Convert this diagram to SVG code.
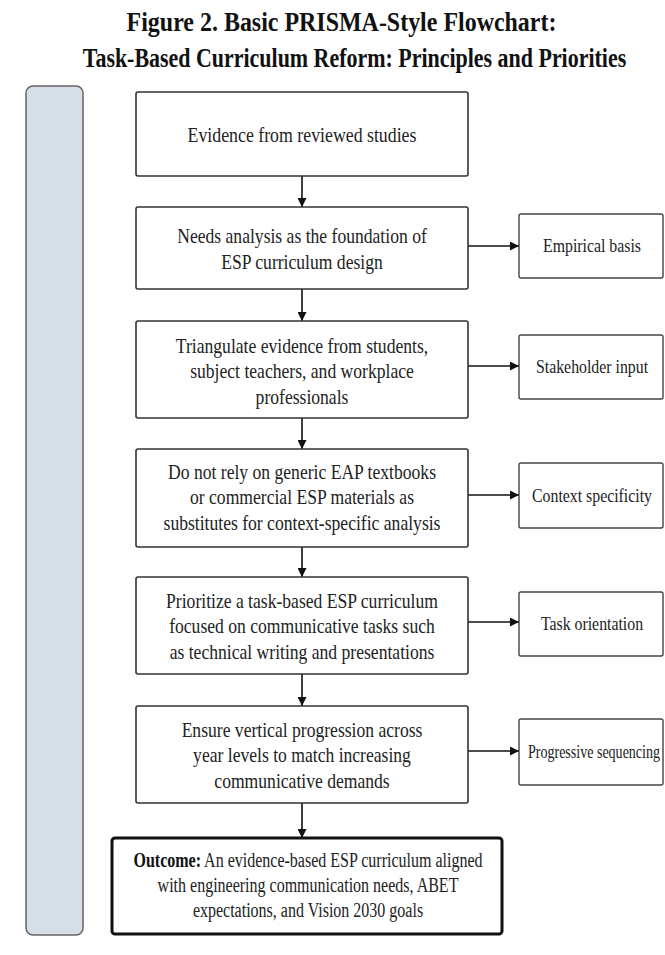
<svg xmlns="http://www.w3.org/2000/svg" width="665" height="955" viewBox="0 0 665 955">
<defs>
<marker id="ah" viewBox="0 0 10 10" refX="10" refY="5" markerWidth="9" markerHeight="9" markerUnits="userSpaceOnUse" orient="auto">
<path d="M0,0 L10,5 L0,10 z" fill="#111"/>
</marker>
<style>
.title{font-family:"Liberation Serif","Times New Roman",serif;font-weight:bold;font-size:27px;fill:#111;text-anchor:middle}
.box{fill:#fff;stroke:#333;stroke-width:1.6}
.side{fill:#fff;stroke:#444;stroke-width:1.4}
.out{fill:#fff;stroke:#111;stroke-width:3}
.t{font-family:"Liberation Serif","Times New Roman",serif;font-size:22px;fill:#222;text-anchor:middle}
.o{font-family:"Liberation Serif","Times New Roman",serif;font-size:20px;fill:#222;text-anchor:middle}
.s{font-family:"Liberation Serif","Times New Roman",serif;font-size:18px;fill:#222;text-anchor:middle}
.c{stroke:#111;stroke-width:1.6;fill:none;marker-end:url(#ah)}
</style>
</defs>
<rect width="665" height="955" fill="#fff"/>
<g id="title">
<g transform="translate(341.5,0) scale(0.887,1)"><text class="title" x="0" y="31">Figure 2. Basic PRISMA-Style Flowchart:</text></g>
<g transform="translate(354.5,0) scale(0.813,1)"><text class="title" x="0" y="67">Task-Based Curriculum Reform: Principles and Priorities</text></g>
</g>
<g id="sidebar"><rect x="26" y="86" width="57" height="849" rx="7" fill="#d6dee8" stroke="#666" stroke-width="1.5"/></g>
<g id="connectors">
<line class="c" x1="302" y1="176" x2="302" y2="207"/>
<line class="c" x1="302" y1="289" x2="302" y2="321"/>
<line class="c" x1="302" y1="418" x2="302" y2="449"/>
<line class="c" x1="302" y1="547" x2="302" y2="577"/>
<line class="c" x1="302" y1="674" x2="302" y2="706"/>
<line class="c" x1="302" y1="803" x2="302" y2="838"/>
<line class="c" x1="468" y1="246" x2="519" y2="246"/>
<line class="c" x1="468" y1="366" x2="519" y2="366"/>
<line class="c" x1="468" y1="495" x2="519" y2="495"/>
<line class="c" x1="468" y1="622" x2="519" y2="622"/>
<line class="c" x1="468" y1="751" x2="519" y2="751"/>
</g>
<g id="n1"><rect class="box" x="136" y="92" width="332" height="84" rx="2"/>
<g transform="translate(302,0) scale(0.81,1)"><text class="t" x="0" y="142">Evidence from reviewed studies</text></g></g>
<g id="n2"><rect class="box" x="136" y="207" width="332" height="82" rx="2"/>
<g transform="translate(302,0) scale(0.8,1)">
<text class="t" x="0" y="243">Needs analysis as the foundation of</text>
<text class="t" x="0" y="269">ESP curriculum design</text></g></g>
<g id="n3"><rect class="box" x="136" y="321" width="332" height="97" rx="2"/>
<g transform="translate(302,0) scale(0.8,1)">
<text class="t" x="0" y="353">Triangulate evidence from students,</text>
<text class="t" x="0" y="378.5">subject teachers, and workplace</text>
<text class="t" x="0" y="404">professionals</text></g></g>
<g id="n4"><rect class="box" x="136" y="449" width="332" height="98" rx="2"/>
<g transform="translate(302,0) scale(0.8,1)">
<text class="t" x="0" y="479">Do not rely on generic EAP textbooks</text>
<text class="t" x="0" y="504.5">or commercial ESP materials as</text>
<text class="t" x="0" y="530">substitutes for context-specific analysis</text></g></g>
<g id="n5"><rect class="box" x="136" y="577" width="332" height="97" rx="2"/>
<g transform="translate(302,0) scale(0.8,1)">
<text class="t" x="0" y="608">Prioritize a task-based ESP curriculum</text>
<text class="t" x="0" y="633.5">focused on communicative tasks such</text>
<text class="t" x="0" y="659">as technical writing and presentations</text></g></g>
<g id="n6"><rect class="box" x="136" y="706" width="332" height="97" rx="2"/>
<g transform="translate(302,0) scale(0.8,1)">
<text class="t" x="0" y="737">Ensure vertical progression across</text>
<text class="t" x="0" y="762.5">year levels to match increasing</text>
<text class="t" x="0" y="788">communicative demands</text></g></g>
<g id="n7"><rect class="out" x="112" y="838" width="390" height="96" rx="3"/>
<g transform="translate(308,0) scale(0.8,1)">
<text class="o" x="0" y="867"><tspan font-weight="bold" fill="#111">Outcome:</tspan> An evidence-based ESP curriculum aligned</text>
<text class="o" x="0" y="892">with engineering communication needs, ABET</text>
<text class="o" x="0" y="917">expectations, and Vision 2030 goals</text></g></g>
<g id="s1"><rect class="side" x="519" y="214" width="144" height="64" rx="2"/>
<g transform="translate(592,0) scale(0.88,1)"><text class="s" x="0" y="252">Empirical basis</text></g></g>
<g id="s2"><rect class="side" x="519" y="335" width="144" height="64" rx="2"/>
<g transform="translate(592,0) scale(0.88,1)"><text class="s" x="0" y="373">Stakeholder input</text></g></g>
<g id="s3"><rect class="side" x="519" y="463" width="144" height="65" rx="2"/>
<g transform="translate(592,0) scale(0.88,1)"><text class="s" x="0" y="502">Context specificity</text></g></g>
<g id="s4"><rect class="side" x="519" y="592" width="144" height="64" rx="2"/>
<g transform="translate(592,0) scale(0.88,1)"><text class="s" x="0" y="630">Task orientation</text></g></g>
<g id="s5"><rect class="side" x="519" y="719" width="144" height="66" rx="2"/>
<g transform="translate(594,0) scale(0.78,1)"><text class="s" x="0" y="758">Progressive sequencing</text></g></g>
</svg>
